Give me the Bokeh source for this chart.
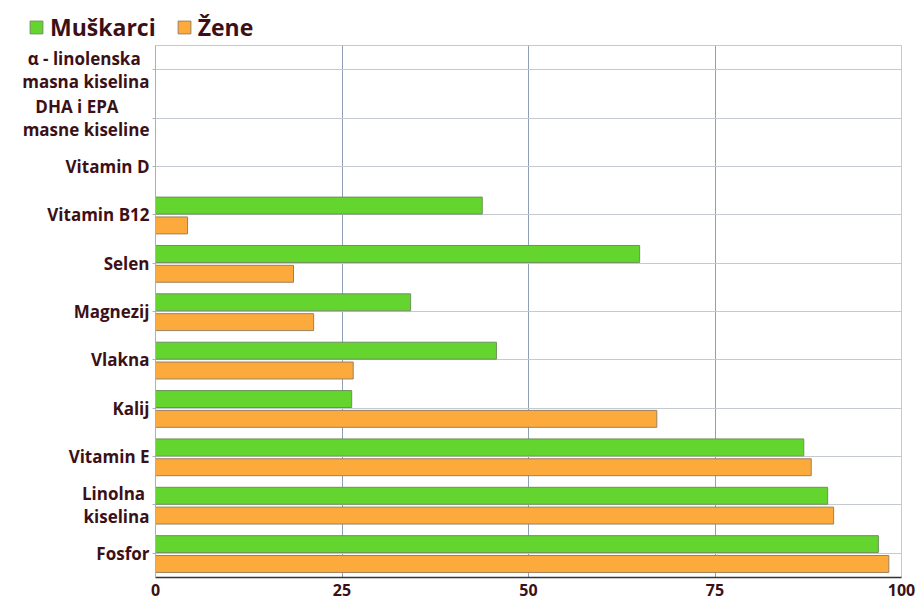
from bokeh.plotting import figure
from bokeh.layouts import column
from bokeh.models import ColumnDataSource, Legend, LegendItem, FixedTicker
from bokeh.transform import dodge
from bokeh.embed import file_html
from bokeh.resources import INLINE

nan = float("nan")
NB = "\u00a0"

# Nutrients, listed top to bottom as shown
nutrients = ["α - linolenska", "DHA i EPA", "Vitamin D", "Vitamin B12", "Selen",
             "Magnezij", "Vlakna", "Kalij", "Vitamin E", "Linolna", "Fosfor"]
second_line = {"α - linolenska": "masna kiselina", "DHA i EPA": "masne kiseline",
               "Linolna": "kiselina"}
muskarci = [nan, nan, nan, 43.8, 64.9, 34.2, 45.7, 26.3, 86.9, 90.1, 96.9]
zene = [nan, nan, nan, 4.3, 18.5, 21.2, 26.5, 67.2, 87.9, 90.9, 98.3]
x_ticks = [0, 25, 50, 75, 100]
series = ["Muškarci", "Žene"]

FONT = "Open Sans"
TEXT_COLOR = "#3b1016"
GREEN = "#64d52e"
ORANGE = "#fdaa3d"
GREEN_EDGE = "#6f8f5a"
ORANGE_EDGE = "#9a8060"

# two-line category names: pad the shorter first line so both lines sit centred
pad = {"α - linolenska": 2, "DHA i EPA": 7, "Linolna": 1}
def label_of(name):
    if name in second_line:
        return name + NB * pad[name] + "\n" + second_line[name]
    return name

cats = [label_of(n) for n in nutrients]
factors = list(reversed(cats))  # first factor sits at the bottom
src = ColumnDataSource(dict(cat=cats, m=muskarci, z=zene))

p = figure(y_range=factors, x_range=(0, 100),
           width=919, height=554,
           output_backend="svg", toolbar_location=None,
           min_border_left=155, min_border_right=18, min_border_top=0, min_border_bottom=22)
p.frame_align = False

p.hbar(y=dodge("cat", 0.19, range=p.y_range), left=0, right="m", height=0.35,
       source=src, fill_color=GREEN, line_color=GREEN_EDGE, line_width=1)
p.hbar(y=dodge("cat", -0.22, range=p.y_range), left=0, right="z", height=0.35,
       source=src, fill_color=ORANGE, line_color=ORANGE_EDGE, line_width=1)

# grid: vertical lines at value ticks, horizontal lines through each category
p.xaxis.ticker = FixedTicker(ticks=x_ticks)
p.xgrid.grid_line_color = "#8fa0b4"
p.ygrid.grid_line_color = "#c4cad0"
p.outline_line_color = "#c4cad0"

p.xaxis.axis_line_color = "#333333"
p.xaxis.axis_line_width = 1.5
p.xaxis.major_tick_line_color = None
p.xaxis.minor_tick_line_color = None
p.xaxis.major_label_text_font = FONT
p.xaxis.major_label_text_font_style = "bold"
p.xaxis.major_label_text_font_size = "16px"
p.xaxis.major_label_text_color = TEXT_COLOR
p.xaxis.major_label_standoff = 0

p.yaxis.axis_line_color = "#b0b0b0"
p.yaxis.major_tick_line_color = "#b0b0b0"
p.yaxis.major_tick_in = 0
p.yaxis.major_tick_out = 3
p.yaxis.major_label_text_font = FONT
p.yaxis.major_label_text_font_style = "bold"
p.yaxis.major_label_text_font_size = "17px"
p.yaxis.major_label_text_color = TEXT_COLOR
p.yaxis.major_label_text_line_height = 1.0
p.yaxis.major_label_standoff = 3

# legend strip across the top
lg = figure(width=919, height=45, x_range=(0, 1), y_range=(0, 1),
            output_backend="svg", toolbar_location=None,
            x_axis_type=None, y_axis_type=None, min_border=0)
lg.frame_align = False
lg.outline_line_color = None
lg.grid.visible = False
# swatch renderers hold no visible bar; only their legend glyphs show
off = ColumnDataSource(dict(y=[nan], r=[nan]))
sw_m = lg.hbar(y="y", right="r", left=0, height=1, source=off,
               fill_color=GREEN, line_color=GREEN_EDGE)
sw_z = lg.hbar(y="y", right="r", left=0, height=1, source=off,
               fill_color=ORANGE, line_color=ORANGE_EDGE)
legend = Legend(items=[LegendItem(label=series[0], renderers=[sw_m]),
                       LegendItem(label=series[1], renderers=[sw_z])],
                orientation="horizontal", location=(26, 0))
legend.label_text_font = FONT
legend.label_text_font_style = "bold"
legend.label_text_font_size = "23px"
legend.label_text_color = TEXT_COLOR
legend.glyph_width = 16
legend.glyph_height = 16
legend.label_height = 24
legend.spacing = 20
legend.label_standoff = 6
legend.padding = 2
legend.margin = 0
legend.border_line_alpha = 0
legend.background_fill_alpha = 0
lg.add_layout(legend, "center")

open("out.html", "w").write(file_html(column(lg, p, spacing=0), INLINE))
